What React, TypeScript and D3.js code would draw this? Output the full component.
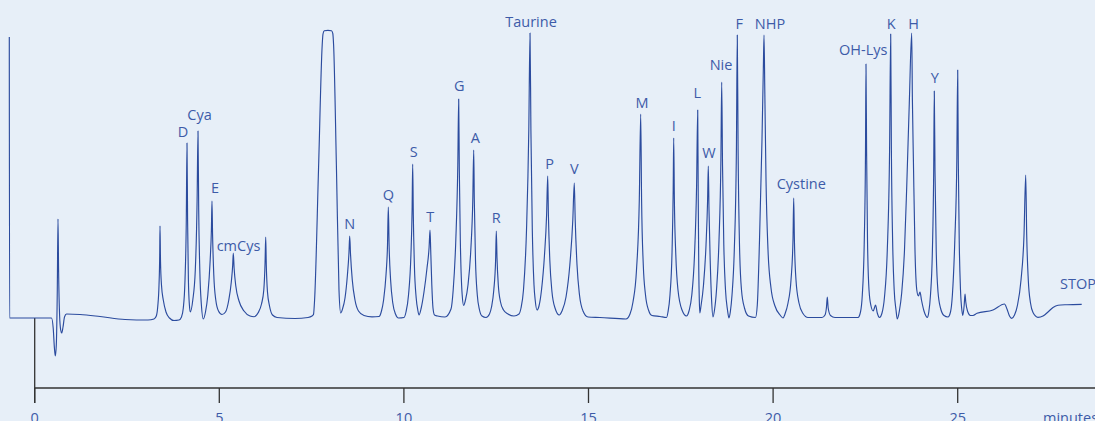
import React from 'react';
import * as d3 from 'd3';

const WIDTH = 1095;
const HEIGHT = 421;

// Chromatogram trace: [retention time (min), detector signal (a.u.)]
const tracePoints: [number, number][] = [
  [-0.688, 281], [-0.68, 0], [0.455, 0], [0.501, -10], [0.534, -30], [0.558, -38], [0.585, -27],
  [0.612, 28], [0.631, 99], [0.647, 48], [0.674, 3], [0.704, -12], [0.731, -15], [0.767, -9],
  [0.807, 1], [0.861, 4], [1.227, 3.5], [1.769, 1.5], [2.446, -1.5], [3.069, -2], [3.231, -1],
  [3.294, 2], [3.334, 12], [3.367, 33], [3.386, 63], [3.394, 92], [3.407, 58], [3.434, 33],
  [3.483, 18], [3.556, 6], [3.651, 0], [3.773, -2.5], [3.908, -2],
  [3.976, 1], [4.025, 10], [4.071, 38], [4.106, 98], [4.125, 175], [4.141, 98], [4.163, 38],
  [4.19, 13], [4.215, 6],
  [4.282, 18], [4.35, 48], [4.399, 118], [4.423, 187], [4.442, 108], [4.472, 48], [4.515, 13], [4.567, -1],
  [4.626, 6], [4.689, 23], [4.753, 58], [4.786, 88], [4.802, 117], [4.818, 83], [4.851, 43],
  [4.905, 18], [4.978, 7], [5.073, 3.5],
  [5.168, 6], [5.257, 18], [5.325, 36], [5.363, 53], [5.379, 65], [5.401, 50], [5.447, 32],
  [5.534, 17], [5.669, 7], [5.832, 2], [5.94, 1.3],
  [6.048, 5], [6.143, 14], [6.205, 28], [6.24, 56], [6.257, 81], [6.273, 53], [6.305, 26],
  [6.36, 12], [6.441, 3], [6.563, 0.5], [7.05, -0.5], [7.403, 0.5],
  [7.511, 2], [7.551, 3.5], [7.581, 18], [7.687, 148], [7.787, 273], [7.809, 284], [7.844, 287.2],
  [7.944, 287.7], [8.039, 287.2], [8.074, 284.5], [8.096, 273], [8.174, 148], [8.242, 28], [8.288, 5],
  [8.337, 9], [8.405, 20], [8.47, 43], [8.513, 66], [8.532, 82], [8.554, 64], [8.602, 38],
  [8.675, 18], [8.77, 7], [8.919, 2.5], [9.136, 1.2], [9.326, 1.5],
  [9.393, 7], [9.45, 18], [9.515, 43], [9.556, 73], [9.578, 111], [9.599, 73], [9.64, 38],
  [9.699, 15], [9.772, 4], [9.854, 0], [10.003, 0.5],
  [10.057, 6], [10.125, 23], [10.19, 63], [10.222, 108], [10.238, 154], [10.255, 103], [10.284, 53],
  [10.333, 20], [10.376, 8], [10.409, 3],
  [10.469, 10], [10.544, 26], [10.626, 50], [10.683, 71], [10.707, 88], [10.726, 68], [10.756, 33],
  [10.788, 10], [10.829, 3], [10.91, 2], [11.113, 1],
  [11.276, 9], [11.335, 28], [11.406, 78], [11.46, 153], [11.484, 219], [11.501, 148], [11.528, 78],
  [11.563, 33], [11.579, 23], [11.617, 12.5],
  [11.668, 18], [11.736, 33], [11.812, 68], [11.866, 118], [11.891, 168], [11.907, 118], [11.939, 58],
  [11.988, 23], [12.048, 8], [12.115, 2], [12.224, 0.5], [12.318, 4],
  [12.373, 11], [12.435, 28], [12.484, 58], [12.503, 87], [12.522, 60], [12.557, 33], [12.617, 16],
  [12.698, 8], [12.82, 4], [12.982, 2], [13.118, 4],
  [13.172, 10], [13.239, 28], [13.321, 88], [13.383, 188], [13.416, 285], [13.44, 188], [13.478, 88],
  [13.524, 33], [13.556, 18], [13.605, 8],
  [13.659, 12], [13.727, 28], [13.808, 63], [13.865, 103], [13.895, 142], [13.914, 103], [13.952, 58],
  [14.011, 26], [14.093, 10], [14.209, 3],
  [14.282, 7], [14.391, 21], [14.494, 53], [14.575, 98], [14.615, 135], [14.64, 98], [14.689, 53],
  [14.756, 23], [14.851, 7], [14.987, 1], [15.311, 0.5], [16.016, -1],
  [16.124, 4], [16.205, 16], [16.3, 48], [16.376, 118], [16.414, 204], [16.438, 118], [16.484, 53],
  [16.544, 23], [16.625, 8], [16.72, 2.5], [16.937, 1.5], [17.113, 0.5],
  [17.153, 6], [17.207, 23], [17.264, 68], [17.294, 128], [17.308, 180], [17.326, 118], [17.365, 63],
  [17.424, 28], [17.533, 8], [17.654, 2],
  [17.722, 7], [17.798, 23], [17.871, 63], [17.928, 133], [17.958, 208], [17.971, 128], [17.987, 48],
  [18.001, 18], [18.015, 5],
  [18.047, 12], [18.115, 33], [18.183, 73], [18.226, 118], [18.245, 152], [18.264, 108], [18.296, 58],
  [18.334, 18], [18.372, 1],
  [18.413, 8], [18.467, 28], [18.535, 78], [18.586, 158], [18.608, 236], [18.63, 153], [18.665, 73],
  [18.711, 28], [18.765, 8], [18.805, 0],
  [18.841, 6], [18.887, 23], [18.949, 68], [19.006, 168], [19.03, 283], [19.052, 168], [19.09, 73],
  [19.144, 28], [19.225, 10], [19.334, 2], [19.523, 0.5],
  [19.572, 13], [19.632, 78], [19.699, 178], [19.735, 248], [19.754, 283], [19.775, 228], [19.808, 138],
  [19.862, 68], [19.943, 30], [20.051, 12], [20.187, 3], [20.268, 0],
  [20.322, 4], [20.404, 15], [20.485, 38], [20.539, 78], [20.558, 120], [20.577, 78], [20.62, 38],
  [20.701, 15], [20.81, 4.5], [20.945, 0.5], [21.325, 0.5],
  [21.406, 3], [21.446, 11], [21.468, 21], [21.492, 10], [21.555, 2.5], [21.677, 0.5], [22.3, 0.5],
  [22.367, 6], [22.416, 23], [22.47, 78], [22.503, 168], [22.516, 254], [22.532, 168], [22.557, 78],
  [22.598, 28], [22.652, 12], [22.711, 7], [22.776, 13], [22.822, 5], [22.882, 0.5],
  [22.95, 5], [23.017, 21], [23.093, 68], [23.155, 168], [23.185, 284], [23.204, 168], [23.237, 78],
  [23.28, 28], [23.329, 8], [23.364, -1],
  [23.424, 8], [23.483, 25], [23.559, 68], [23.619, 131], [23.689, 215], [23.754, 285], [23.773, 218],
  [23.8, 158], [23.843, 68], [23.892, 28], [23.935, 22], [23.979, 26], [24.019, 18], [24.087, 7], [24.182, 0.5],
  [24.217, 6], [24.263, 23], [24.315, 68], [24.35, 148], [24.366, 227], [24.385, 148], [24.418, 68],
  [24.467, 26], [24.534, 10], [24.629, 2.5], [24.737, 1],
  [24.805, 6], [24.856, 23], [24.922, 78], [24.976, 158], [25.0, 248], [25.016, 158], [25.041, 78],
  [25.076, 28], [25.116, 7],
  [25.138, 2.5], [25.176, 13], [25.198, 24], [25.219, 16], [25.265, 7], [25.347, 2.5], [25.414, 2.5],
  [25.523, 4.7], [25.956, 8], [26.268, 14], [26.335, 9], [26.403, 2], [26.462, -0.3],
  [26.539, 3], [26.62, 13], [26.715, 38], [26.796, 83], [26.842, 143], [26.869, 83], [26.912, 38],
  [26.972, 15], [27.04, 5.5], [27.175, 0.7], [27.31, 2], [27.454, 6.3], [27.581, 10.5], [27.717, 12.7],
  [27.961, 13.3], [28.359, 13.7],
];

// Peak annotations (label text, retention time, signal level of label baseline)
const peakNames = ['D', 'Cya', 'E', 'cmCys', 'N', 'Q', 'S', 'T', 'G', 'A', 'R', 'Taurine', 'P', 'V',
  'M', 'I', 'L', 'W', 'Nie', 'F', 'NHP', 'Cystine', 'OH-Lys', 'K', 'H', 'Y'];
const labelTimes = [4.017, 4.464, 4.884, 5.52, 8.532, 9.578, 10.265, 10.715, 11.501, 11.934, 12.503,
  13.443, 13.949, 14.615, 16.449, 17.308, 17.947, 18.264, 18.589, 19.085, 19.916, 20.764, 22.443,
  23.202, 23.808, 24.377];
const labelLevels = [181, 198, 125, 67, 89, 118, 161, 96, 227, 175, 95, 291, 149, 144, 210, 187,
  220, 160, 248, 289, 289, 129, 263, 289, 289, 235];

const stopText = 'STOP';
const stopTime = 27.771;
const stopLevel = 29;

const tickValues = [0, 5, 10, 15, 20, 25];
const axisUnit = 'minutes';

const BG = '#e7eff8';
const TRACE = '#2b4b9e';
const TEXT = '#3d5ba8';
const AXIS = '#333333';
const FONT = '"Open Sans", "DejaVu Sans", sans-serif';

export default function App() {
  const x = d3.scaleLinear().domain([0, 25]).range([34.7, 957.7]);
  const y = d3.scaleLinear().domain([0, 288]).range([318, 30]);
  const axisY = 388;
  const tickLen = 15;
  const tickLabelY = 423;

  const line = d3
    .line<[number, number]>()
    .x((d) => x(d[0]))
    .y((d) => y(d[1]))
    .curve(d3.curveMonotoneX);

  return (
    <svg
      width={WIDTH}
      height={HEIGHT}
      style={{ position: 'absolute', left: 0, top: 0, display: 'block', background: BG }}
      fontFamily={FONT}
    >
      <rect x={0} y={0} width={WIDTH} height={HEIGHT} fill={BG} />
      {/* axis */}
      <line x1={x(0)} x2={WIDTH} y1={axisY} y2={axisY} stroke={AXIS} strokeWidth={1.6} />
      <line x1={x(0)} x2={x(0)} y1={y(0)} y2={axisY + tickLen} stroke={AXIS} strokeWidth={1.3} />
      {tickValues.map((t) => (
        <g key={t}>
          <line x1={x(t)} x2={x(t)} y1={axisY} y2={axisY + tickLen} stroke={AXIS} strokeWidth={1.3} />
          <text x={x(t)} y={tickLabelY} textAnchor="middle" fontSize={14.5} fill={TEXT}>
            {t}
          </text>
        </g>
      ))}
      <text x={1043} y={tickLabelY} fontSize={14.5} fill={TEXT}>
        {axisUnit}
      </text>

      {/* trace */}
      <path d={line(tracePoints) || ''} fill="none" stroke={TRACE} strokeWidth={1.15} strokeLinejoin="round" />

      {/* labels */}
      {peakNames.map((name, i) => (
        <text
          key={name}
          x={x(labelTimes[i])}
          y={y(labelLevels[i])}
          textAnchor="middle"
          fontSize={14.5}
          fill={TEXT}
        >
          {name}
        </text>
      ))}
      <text x={x(stopTime)} y={y(stopLevel)} fontSize={14.5} fill={TEXT}>
        {stopText}
      </text>
    </svg>
  );
}
